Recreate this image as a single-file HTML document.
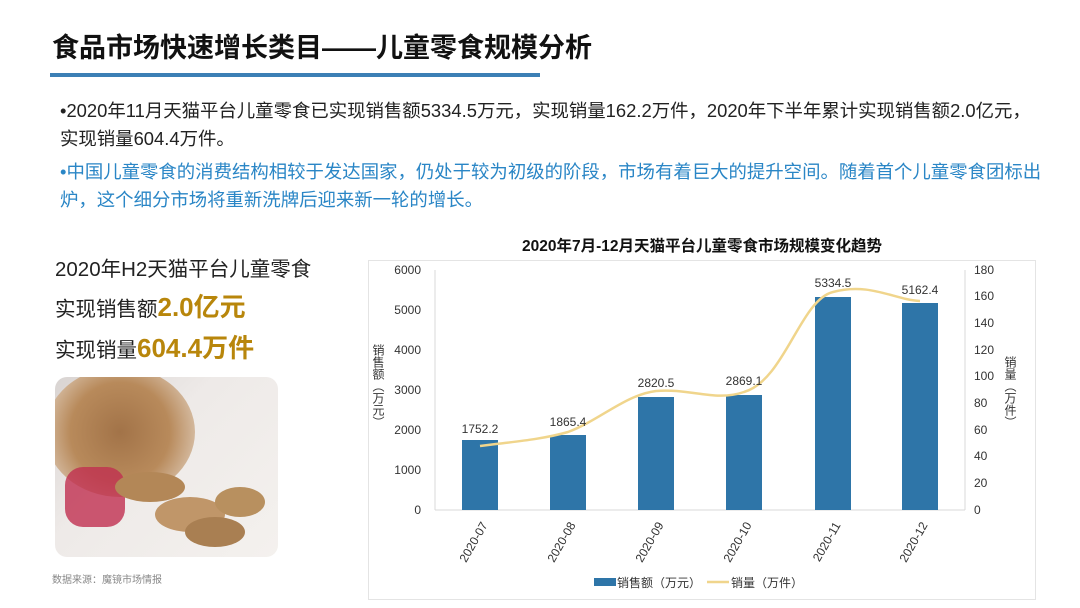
<!DOCTYPE html>
<html><head><meta charset="utf-8"><style>
body{margin:0;width:1080px;height:608px;background:#fff;position:relative;overflow:hidden;font-family:"Liberation Sans","Noto Sans CJK SC",sans-serif;}
.a{position:absolute;white-space:nowrap}
.v{writing-mode:vertical-rl;font-size:12px;color:#333;font-family:"Noto Sans CJK SC",sans-serif;}
</style></head><body>
<div class="a" style="left:52px;top:26px;font-size:27px;font-weight:bold;color:#111;">食品市场快速增长类目——儿童零食规模分析</div>
<div class="a" style="left:50px;top:73px;width:490px;height:4px;background:#3c7fb5;"></div>
<div class="a" style="left:60px;top:97px;font-size:18.4px;color:#222;line-height:28px;">•2020年11月天猫平台儿童零食已实现销售额5334.5万元，实现销量162.2万件，2020年下半年累计实现销售额2.0亿元，<br>实现销量604.4万件。</div>
<div class="a" style="left:60px;top:158px;font-size:18.4px;color:#2a86c6;line-height:28px;">•中国儿童零食的消费结构相较于发达国家，仍处于较为初级的阶段，市场有着巨大的提升空间。随着首个儿童零食团标出<br>炉，这个细分市场将重新洗牌后迎来新一轮的增长。</div>
<div class="a" style="left:55px;top:252px;font-size:20.5px;color:#222;">2020年H2天猫平台儿童零食</div>
<div class="a" style="left:55px;top:287px;font-size:20.5px;color:#222;">实现销售额<span style="font-size:26px;font-weight:bold;color:#b8860b;">2.0亿元</span></div>
<div class="a" style="left:55px;top:328px;font-size:20.5px;color:#222;">实现销量<span style="font-size:26px;font-weight:bold;color:#b8860b;">604.4万件</span></div>
<div class="a" style="left:55px;top:377px;width:223px;height:180px;border-radius:12px;overflow:hidden;background:linear-gradient(135deg,#d9d4d2 0%,#eeeae8 40%,#f4f1ee 100%);">
 <div class="a" style="left:-10px;top:-10px;width:150px;height:130px;border-radius:50%;background:radial-gradient(circle,#a27348 0%,#b88a5b 50%,#d8c0a8 80%,transparent 100%);"></div>
 <div class="a" style="left:10px;top:90px;width:60px;height:60px;background:#c03050;border-radius:30%;opacity:.8"></div>
 <div class="a" style="left:60px;top:95px;width:70px;height:30px;border-radius:50%;background:#b38757;"></div>
 <div class="a" style="left:100px;top:120px;width:70px;height:35px;border-radius:50%;background:#c09669;"></div>
 <div class="a" style="left:160px;top:110px;width:50px;height:30px;border-radius:50%;background:#b8905f;"></div>
 <div class="a" style="left:130px;top:140px;width:60px;height:30px;border-radius:50%;background:#a97f52;"></div>
</div>
<div class="a" style="left:52px;top:571px;font-size:10px;color:#888;">数据来源：魔镜市场情报</div>
<div class="a" style="left:368px;top:260px;width:666px;height:338px;border:1px solid #e4e4e4;"></div>
<div class="a" style="left:368px;top:234px;width:668px;text-align:center;font-size:15.5px;font-weight:bold;color:#111;">2020年7月-12月天猫平台儿童零食市场规模变化趋势</div>
<div class="a v" style="left:370px;top:344px;">销售额（万元）</div>
<div class="a v" style="left:1002px;top:356px;">销量（万件）</div>
<svg class="a" style="left:0;top:0" width="1080" height="608" font-family="Liberation Sans,Noto Sans CJK SC,sans-serif">
<g stroke="#d9d9d9" stroke-width="1"><line x1="435" y1="270" x2="435" y2="510"/><line x1="435" y1="510" x2="965" y2="510"/><line x1="965" y1="270" x2="965" y2="510"/></g>
<g font-size="12" fill="#333" text-anchor="end">
<text x="421" y="274">6000</text><text x="421" y="314">5000</text><text x="421" y="354">4000</text><text x="421" y="394">3000</text><text x="421" y="434">2000</text><text x="421" y="474">1000</text><text x="421" y="514">0</text></g>
<g font-size="12" fill="#333" text-anchor="start">
<text x="974" y="274">180</text><text x="974" y="300">160</text><text x="974" y="327">140</text><text x="974" y="354">120</text><text x="974" y="380">100</text><text x="974" y="407">80</text><text x="974" y="434">60</text><text x="974" y="460">40</text><text x="974" y="487">20</text><text x="974" y="514">0</text></g>
<g fill="#2e75a8">
<rect x="462" y="440" width="36" height="70"/><rect x="550" y="435" width="36" height="75"/><rect x="638" y="397" width="36" height="113"/><rect x="726" y="395" width="36" height="115"/><rect x="815" y="297" width="36" height="213"/><rect x="902" y="303" width="36" height="207"/></g>
<path d="M480,446 C510,442 540,440 568,432 C600,420 625,395 656,391 C690,388 715,402 744,392 C785,380 800,300 833,292 C870,282 895,300 920,301" fill="none" stroke="#f0d58c" stroke-width="2.5"/>
<g font-size="12" fill="#333" text-anchor="middle">
<text x="480" y="433">1752.2</text><text x="568" y="426">1865.4</text><text x="656" y="387">2820.5</text><text x="744" y="385">2869.1</text><text x="833" y="287">5334.5</text><text x="920" y="294">5162.4</text></g>
<g font-size="12" fill="#333">
<text transform="translate(488,525) rotate(-60)" text-anchor="end">2020-07</text>
<text transform="translate(576,525) rotate(-60)" text-anchor="end">2020-08</text>
<text transform="translate(664,525) rotate(-60)" text-anchor="end">2020-09</text>
<text transform="translate(752,525) rotate(-60)" text-anchor="end">2020-10</text>
<text transform="translate(841,525) rotate(-60)" text-anchor="end">2020-11</text>
<text transform="translate(928,525) rotate(-60)" text-anchor="end">2020-12</text></g>
<rect x="594" y="578" width="22" height="8" fill="#2e75a8"/><text x="617" y="587" font-size="12" fill="#333">销售额（万元）</text>
<line x1="707" y1="582" x2="729" y2="582" stroke="#f0d58c" stroke-width="2.5"/><text x="731" y="587" font-size="12" fill="#333">销量（万件）</text>
</svg>
</body></html>
